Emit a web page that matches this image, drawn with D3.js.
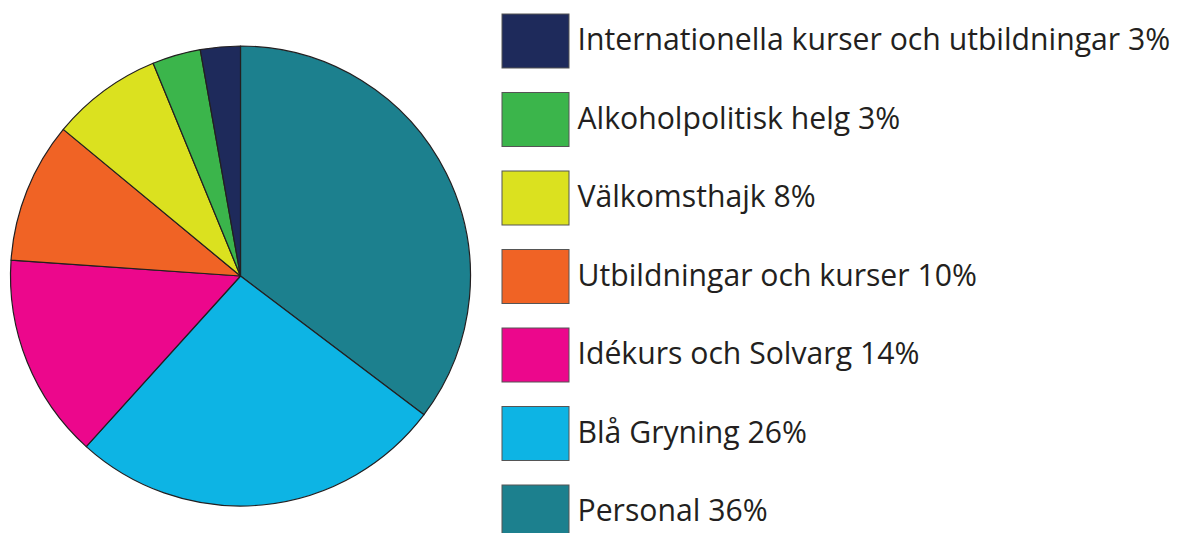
<!DOCTYPE html>
<html><head><meta charset="utf-8">
<script src="https://d3js.org/d3.v7.min.js"></script>
<style>body{margin:0;background:#fff;}svg{display:block;}</style>
</head><body>
<script>
const categories = ["Personal","Blå Gryning","Idékurs och Solvarg","Utbildningar och kurser","Välkomsthajk","Alkoholpolitisk helg","Internationella kurser och utbildningar"];
const values = [35.3, 26.4, 14.4, 9.9, 7.8, 3.4, 2.8];
const labelPercents = ["36%","26%","14%","10%","8%","3%","3%"];
const colors = ["#1c808e","#0db4e4","#ec078c","#f06325","#dbe11f","#3bb54b","#1e2a5b"];

const W=1177,H=533;
const svg=d3.select("body").append("svg").attr("width",W).attr("height",H);

const cx=240.5, cy=276, r=230;
const pie=d3.pie().sort(null).value(d=>d)(values);
const arc=d3.arc().innerRadius(0).outerRadius(r);
const g=svg.append("g").attr("transform",`translate(${cx},${cy})`);
g.selectAll("path").data(pie).join("path")
  .attr("d",arc).attr("fill",(d,i)=>colors[i])
  .attr("stroke","#231f20").attr("stroke-width",1.2).attr("stroke-linejoin","round");

// legend (reverse order: top = last slice)
const order=d3.range(categories.length).reverse();
const ly=d3.scalePoint().domain(order).range([14,485]);
const lg=svg.append("g");
const rows=lg.selectAll("g").data(order).join("g").attr("transform",i=>`translate(502,${ly(i)})`);
rows.append("rect").attr("width",67).attr("height",54).attr("fill",i=>colors[i])
  .attr("stroke","#555").attr("stroke-width",1);
const texts=rows.append("text").attr("x",75.5).attr("y",36)
  .attr("font-family","'Open Sans', sans-serif").attr("font-size",30).attr("fill","#231f20")
  .text(i=>categories[i]+" "+labelPercents[i]);
// fit font size so the longest label matches the reference width
const first=texts.filter(i=>i===6).node();
const w=first.getComputedTextLength();
const fs=30*593/w;
texts.attr("font-size",fs);
</script>
</body></html>
